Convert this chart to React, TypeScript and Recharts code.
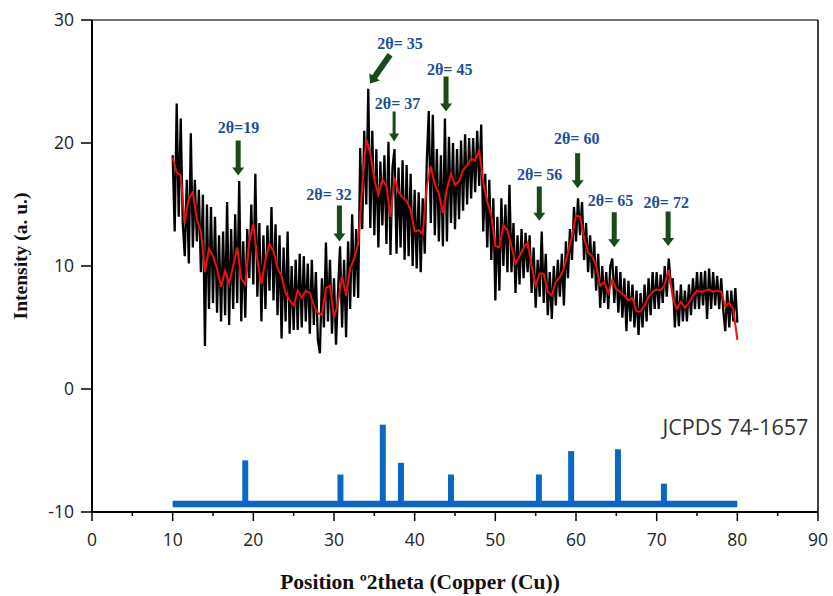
import { ComposedChart, Line, XAxis, YAxis, ReferenceLine, ReferenceDot, Label } from "recharts"

// measured pattern, equal 2theta steps
const blackStart = 10
const blackStep = 0.25
const blackIntensity = [
  19.0, 12.8, 23.2, 14.0,
  22.0, 13.5, 10.8, 17.0,
  10.2, 20.8, 11.5, 17.0,
  12.0, 16.2, 9.5, 15.8,
  3.5, 15.0, 6.5, 14.8,
  7.0, 14.0, 6.2, 12.5,
  5.5, 12.8, 6.0, 15.2,
  5.2, 13.0, 6.5, 14.2,
  7.0, 16.9, 5.5, 12.0,
  5.8, 13.0, 9.0, 15.0,
  8.5, 17.5, 7.5, 13.5,
  5.5, 12.5, 6.5, 13.3,
  8.0, 14.8, 7.2, 13.4,
  6.0, 12.5, 4.1, 11.5,
  5.5, 12.8, 4.5, 10.0,
  4.8, 10.5, 4.8, 11.0,
  5.0, 10.8, 5.5, 10.2,
  4.5, 10.5, 5.2, 9.5,
  4.0, 2.9, 9.0, 5.0,
  11.9, 5.5, 10.5, 4.5,
  9.0, 3.6, 8.0, 11.6,
  5.0, 10.5, 4.2, 12.0,
  6.5, 14.2, 7.5, 13.0,
  7.4, 19.6, 13.0, 21.0,
  15.0, 24.4, 13.1, 21.0,
  12.5, 19.5, 11.5, 18.5,
  13.3, 19.0, 11.8, 20.1,
  10.9, 18.0, 19.5, 11.0,
  18.0, 11.5, 18.6, 10.5,
  18.2, 10.8, 17.5, 10.0,
  16.2, 9.8, 16.0, 9.5,
  15.5, 11.0, 18.5, 22.6,
  13.5, 22.3, 12.5, 19.5,
  12.0, 19.0, 11.6, 22.0,
  12.0, 20.5, 13.5, 20.0,
  13.0, 19.5, 13.8, 20.2,
  14.5, 20.7, 15.0, 20.4,
  15.5, 20.4, 16.0, 21.0,
  16.5, 21.5, 12.8, 17.5,
  11.5, 17.0, 10.5, 15.5,
  7.2, 14.0, 8.0, 15.5,
  10.0, 15.0, 9.5, 16.6,
  9.5, 13.5, 7.8, 12.5,
  8.5, 13.0, 9.0, 12.7,
  9.5, 12.5, 7.8, 11.5,
  6.6, 10.5, 7.5, 12.8,
  7.0, 11.0, 6.0, 9.5,
  5.7, 10.0, 6.8, 10.5,
  7.5, 11.0, 6.8, 12.0,
  9.0, 13.0, 10.5, 14.8,
  12.0, 15.5, 12.5, 15.2,
  10.5, 13.5, 9.5, 12.5,
  9.0, 12.0, 8.0, 11.0,
  6.6, 10.0, 7.0, 9.5,
  6.5, 10.0, 10.6, 7.0,
  10.0, 6.2, 9.5, 5.8,
  9.0, 4.7, 8.8, 5.5,
  8.5, 5.0, 8.0, 4.4,
  7.8, 5.0, 8.5, 5.5,
  9.0, 6.0, 9.5, 6.5,
  9.5, 6.5, 9.3, 7.0,
  10.0, 7.5, 10.6, 8.5,
  9.0, 5.0, 8.0, 5.1,
  8.5, 5.5, 8.0, 5.5,
  8.5, 6.0, 9.0, 6.5,
  9.5, 6.5, 9.5, 6.8,
  9.6, 5.7, 9.8, 6.5,
  9.5, 6.8, 9.2, 6.5,
  9.0, 6.5, 4.7, 8.0,
  5.0, 8.0, 5.5, 8.2,
  5.4,
]

// smoothed curve
const redStart = 10
const redStep = 0.5
const redIntensity = [
  18.8, 17.6, 17.4, 13.5, 15.5, 16.0, 13.8, 12.8, 9.5, 11.4,
  10.8, 9.8, 8.3, 9.6, 8.6, 10.0, 11.5, 9.0, 8.5, 12.0,
  13.4, 10.5, 8.5, 10.5, 11.8, 11.2, 9.8, 9.2, 7.8, 7.2,
  6.8, 8.0, 7.4, 8.0, 7.8, 6.8, 6.2, 6.0, 8.2, 8.4,
  5.8, 7.0, 9.2, 7.6, 9.8, 10.6, 11.8, 16.5, 20.3, 19.2,
  17.0, 15.8, 17.0, 16.5, 14.0, 17.2, 16.0, 15.6, 15.3, 14.5,
  12.8, 12.9, 12.6, 16.5, 18.1, 16.6, 15.9, 14.3, 16.3, 17.5,
  16.6, 16.9, 17.8, 18.2, 18.7, 18.6, 19.4, 16.8, 15.2, 14.1,
  11.6, 11.5, 13.3, 12.9, 11.6, 10.2, 10.8, 11.5, 11.9, 10.0,
  8.4, 9.4, 9.4, 7.9, 7.6, 8.7, 9.1, 9.8, 11.1, 12.4,
  14.1, 14.0, 12.3, 11.1, 10.8, 10.0, 8.4, 8.7, 7.8, 8.9,
  8.1, 7.9, 7.6, 7.2, 7.4, 6.3, 6.3, 6.8, 7.5, 7.9,
  8.1, 8.0, 8.5, 9.7, 7.4, 6.5, 7.1, 6.6, 7.0, 7.6,
  8.0, 7.9, 8.0, 8.1, 7.9, 8.0, 7.9, 6.7, 7.0, 6.5,
  4.0,
]

// JCPDS 74-1657 reference lines
const refPositions = [19.0, 30.8, 36.05, 38.3, 44.5, 55.4, 59.4, 65.2, 70.9]
const refTops = [-5.8, -6.95, -2.9, -6.0, -6.95, -6.95, -5.05, -4.9, -7.7]
const refBaseline = -9.35
const refFrom = 10
const refTo = 80

const xTicks = [0, 5, 10, 15, 20, 25, 30, 35, 40, 45, 50, 55, 60, 65, 70, 75, 80, 85, 90]
const yTicks = [-10, 0, 10, 20, 30]

// peak annotations
const peakLabels = ["2θ=19", "2θ= 32", "2θ= 35", "2θ= 37", "2θ= 45", "2θ= 56", "2θ= 60", "2θ= 65", "2θ= 72"]
const labelX = [18.15, 29.39, 38.19, 37.88, 44.35, 55.49, 60.08, 64.29, 71.18]
const labelY = [21.26, 15.79, 28.12, 23.24, 25.96, 17.46, 20.34, 15.32, 15.16]
const tailX = [18.12, 30.67, 36.95, 37.45, 43.89, 55.45, 60.2, 64.74, 71.42]
const tailY = [20.2, 14.91, 27.18, 22.56, 25.41, 16.46, 19.17, 14.37, 14.43]
const tipX = [18.12, 30.67, 34.47, 37.45, 43.89, 55.45, 60.2, 64.74, 71.42]
const tipY = [17.36, 11.99, 24.84, 20.12, 22.56, 13.67, 16.32, 11.52, 11.63]
const shaftWidth = [5, 5, 6, 3, 5, 5, 5, 5, 5]

const blackData = blackIntensity.map((v, i) => ({ x: blackStart + i * blackStep, y: v }))
const redData = redIntensity.map((v, i) => ({ x: redStart + i * redStep, y: v }))

const tickFont = { fontFamily: "'Open Sans', sans-serif", fontSize: 17.5, fill: "#222" }
const serifBold = "'Liberation Serif', 'Times New Roman', serif"

function XTick(props: any) {
  const { x, y, payload } = props
  const major = payload.value % 10 === 0
  return (
    <g>
      <line x1={x} y1={y} x2={x} y2={y + (major ? 9 : 4)} stroke="#000" strokeWidth={1.5} />
      {major && (
        <text x={x} y={y + 34} textAnchor="middle" {...tickFont}>
          {payload.value}
        </text>
      )}
    </g>
  )
}

function arrowShape(w: number) {
  return (p: any) => {
    const { x1, y1, x2, y2 } = p
    const dx = x2 - x1
    const dy = y2 - y1
    const len = Math.sqrt(dx * dx + dy * dy)
    const ux = dx / len
    const uy = dy / len
    const nx = -uy
    const ny = ux
    const head = 8
    const hw = w / 2 + 3.5
    const sw = w / 2
    const bx = x2 - ux * head
    const by = y2 - uy * head
    const pts = [
      [x1 + nx * sw, y1 + ny * sw],
      [bx + nx * sw, by + ny * sw],
      [bx + nx * hw, by + ny * hw],
      [x2, y2],
      [bx - nx * hw, by - ny * hw],
      [bx - nx * sw, by - ny * sw],
      [x1 - nx * sw, y1 - ny * sw],
    ]
    return <polygon points={pts.map(q => q.join(",")).join(" ")} fill="#1a4a1a" />
  }
}

export default function App() {
  return (
    <div style={{ position: "absolute", left: 0, top: 0, background: "#fff" }}>
      <ComposedChart width={833} height={596} margin={{ top: 20, right: 15, bottom: 0, left: 0 }}>
        <XAxis
          type="number"
          dataKey="x"
          domain={[0, 90]}
          ticks={xTicks}
          interval={0}
          tickLine={false}
          tickSize={0}
          tickMargin={0}
          height={84}
          axisLine={{ stroke: "#000", strokeWidth: 2 }}
          tick={<XTick />}
        >
          <Label
            content={() => (
              <text x={420} y={589} textAnchor="middle" fontFamily={serifBold} fontWeight="bold" fontSize={21.5} fill="#111">
                Position º2theta (Copper (Cu))
              </text>
            )}
          />
        </XAxis>
        <YAxis
          type="number"
          domain={[-10, 30]}
          ticks={yTicks}
          interval={0}
          width={92}
          tickSize={11}
          tickMargin={7}
          axisLine={{ stroke: "#000", strokeWidth: 2 }}
          tickLine={{ stroke: "#000", strokeWidth: 1.5 }}
          tick={tickFont}
        >
          <Label
            content={() => (
              <text
                x={20}
                y={256}
                transform="rotate(-90 20 256)"
                textAnchor="middle"
                dominantBaseline="central"
                fontFamily={serifBold}
                fontWeight="bold"
                fontSize={19.5}
                fill="#111"
              >
                Intensity (a. u.)
              </text>
            )}
          />
        </YAxis>

        <ReferenceLine y={30} stroke="#444" strokeWidth={1.5} />
        <ReferenceLine x={90} stroke="#000" strokeWidth={1.5} />

        <ReferenceLine
          segment={[{ x: refFrom, y: refBaseline }, { x: refTo, y: refBaseline }]}
          stroke="#0d66c2"
          strokeWidth={6.5}
        />
        {refPositions.map((p, i) => (
          <ReferenceLine
            key={"ref" + i}
            segment={[{ x: p, y: refBaseline }, { x: p, y: refTops[i] }]}
            stroke="#0d66c2"
            strokeWidth={6}
          />
        ))}
        <ReferenceDot
          x={88.8}
          y={-3.07}
          shape={(p: any) => (
            <text x={p.cx} y={p.cy} textAnchor="end" dominantBaseline="central" fontFamily="'Open Sans', sans-serif" fontSize={21.5} fill="#333">
              JCPDS 74-1657
            </text>
          )}
        />

        <Line data={blackData} dataKey="y" type="linear" stroke="#000" strokeWidth={2.3} dot={false} isAnimationActive={false} />
        <Line data={redData} dataKey="y" type="linear" stroke="#f01010" strokeWidth={2} dot={false} isAnimationActive={false} />

        {peakLabels.map((lab, i) => (
          <ReferenceLine
            key={"arrow" + i}
            segment={[{ x: tailX[i], y: tailY[i] }, { x: tipX[i], y: tipY[i] }]}
            shape={arrowShape(shaftWidth[i])}
          />
        ))}
        {peakLabels.map((lab, i) => (
          <ReferenceDot
            key={"lab" + i}
            x={labelX[i]}
            y={labelY[i]}
            shape={(p: any) => (
              <text x={p.cx} y={p.cy} textAnchor="middle" dominantBaseline="central" fontFamily={serifBold} fontWeight="bold" fontSize={16} fill="#1f4e96">
                {lab}
              </text>
            )}
          />
        ))}
      </ComposedChart>
    </div>
  )
}
